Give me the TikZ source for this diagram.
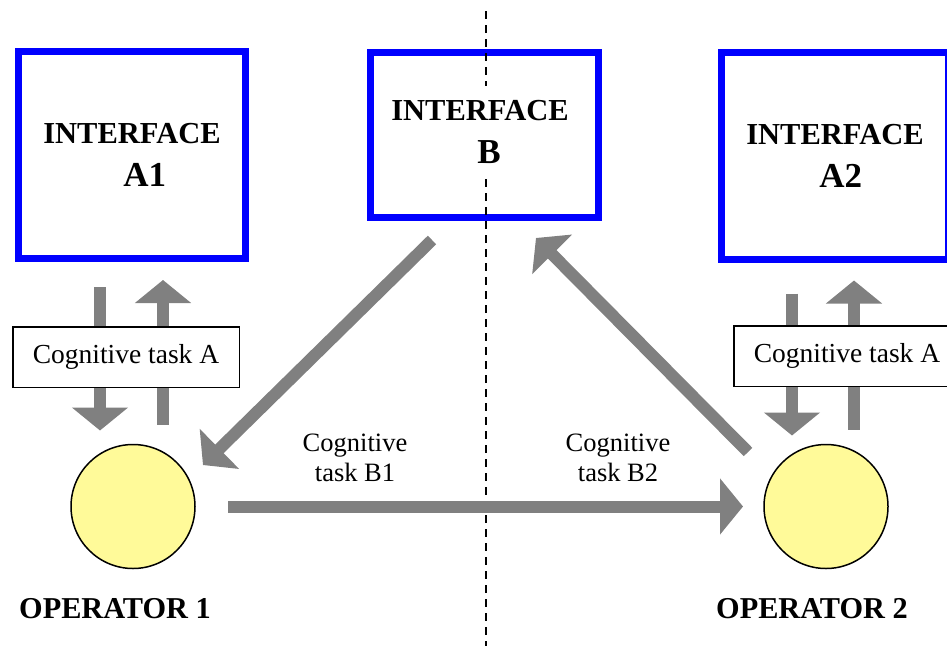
\documentclass[tikz,border=0pt]{standalone}
\usepackage{fontspec}
\setmainfont{Liberation Serif}
\usetikzlibrary{arrows.meta}

\begin{document}
\begin{tikzpicture}[x=1pt,y=-1pt,line width=1.5pt,
  iface/.style={draw=blue,fill=white,line width=7pt,outer sep=0pt,minimum width=227pt,minimum height=207pt,align=left,font=\bfseries\fontsize{30.5}{43}\selectfont},
  opr/.style={circle,draw,fill=yellow!40,line width=1.5pt,outer sep=0pt,minimum size=124pt},
  task/.style={draw,fill=white,line width=1.5pt,minimum width=226.5pt,minimum height=60.5pt,font=\fontsize{27.5}{30}\selectfont},
  lab/.style={align=center,font=\fontsize{26.5}{30}\selectfont},
  oplab/.style={anchor=base,font=\bfseries\fontsize{30.3}{34}\selectfont},
  fat/.style={draw=gray,line width=12pt,-{Triangle[width=55pt,length=23pt]}}]
\useasboundingbox (0,0) rectangle (947,646);
% interfaces
\node[iface] (A1) at (132,155) {INTERFACE\\\hspace*{80pt}{\fontsize{35}{43}\selectfont A1}};
\node[iface,minimum width=228pt,minimum height=165pt] (B) at (484.5,135) {};
\node[iface] (A2) at (835,155.5) {INTERFACE\\\hspace*{73pt}{\fontsize{35}{43}\selectfont A2}};
\draw[line width=2pt,dash pattern=on 8pt off 6pt] (486,11) -- (486,646);
\node[fill=white,inner sep=14pt,align=left,font=\bfseries\fontsize{30.5}{43}\selectfont] (Btxt) at (480,132) {INTERFACE\\\hspace*{86pt}{\fontsize{35}{43}\selectfont B}};
% operators
\node[opr] (op1) at (133,506.5) {};
\node[opr] (op2) at (826,506.5) {};
\node[oplab] (op1lab) at (115,618) {OPERATOR 1};
\node[oplab] (op2lab) at (812,618) {OPERATOR 2};
% arrows
\draw[fat,shorten <=28.5pt,shorten >=14pt] ([xshift=-32pt]A1.south) -- ([xshift=-33pt]op1.north);
\draw[fat,shorten <=20pt,shorten >=21.5pt] ([xshift=30pt]op1.north) -- ([xshift=31pt]A1.south);
\draw[fat,shorten <=34.5pt,shorten >=9pt] ([xshift=-43pt]A2.south) -- ([xshift=-34pt]op2.north);
\draw[fat,shorten <=15pt,shorten >=21.5pt] ([xshift=28pt]op2.north) -- ([xshift=19pt]A2.south);
\draw[fat,shorten <=33pt,shorten >=21pt] (op1.east) -- (op2.west);
\draw[fat] ([shift={(-52.5,22.5)}]B.south) -- ([shift={(70,-41.5)}]op1.center);
\draw[fat] ([shift={(-78,-54.5)}]op2.center) -- ([shift={(51.5,20.5)}]B.south);
% tasks
\node[task] (tA1) at (126,357) {Cognitive task A};
\node[task] (tA2) at (847,356) {Cognitive task A};
\node[lab] (tB1) at (355,458) {Cognitive\\task B1};
\node[lab] (tB2) at (618,458) {Cognitive\\task B2};
\end{tikzpicture}
\end{document}
